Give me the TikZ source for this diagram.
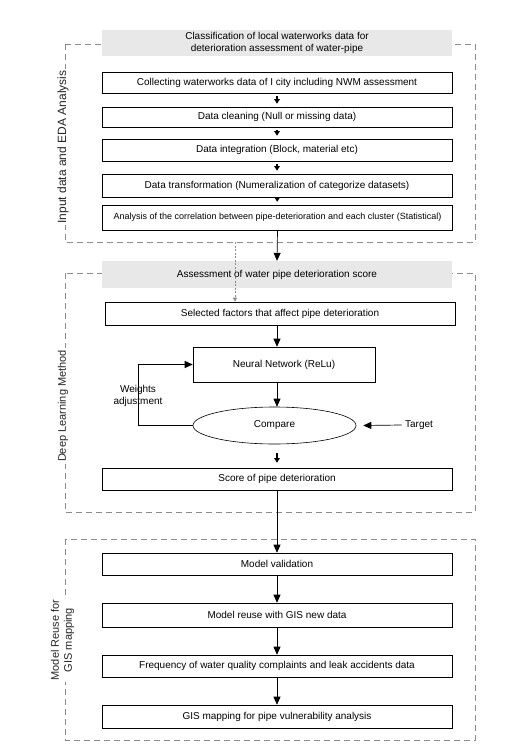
\documentclass[tikz,border=0pt]{standalone}
\usepackage{fontspec}
\setmainfont{Liberation Sans}
\usepackage{tikz}
\usetikzlibrary{shapes.geometric, arrows.meta, positioning}
\tikzstyle{process} = [rectangle, minimum width=350pt, text centered, draw=black, line width=0.6pt, font=\fontsize{10}{12}\selectfont, inner sep=1pt]
\tikzstyle{band} = [rectangle, minimum width=350pt, fill=black!9, text centered, align=center, font=\fontsize{10}{12}\selectfont, inner sep=1pt]
\tikzstyle{frame} = [draw=black!45, line width=0.8pt, dash pattern=on 6pt off 4pt]
\tikzstyle{sidelabel} = [rotate=90, fill=white, align=center, inner sep=2pt, font=\fontsize{11}{13}\selectfont, text=black!85]
\tikzstyle{arrow} = [line width=0.7pt, -{Triangle[width=7pt, length=8pt]}]
\tikzstyle{step arrow} = [line width=1.8pt, -{Triangle[width=5.5pt, length=4.5pt]}, shorten <=3pt, shorten >=3pt]

\begin{document}
\begin{tikzpicture}[x=1pt, y=-1pt]
\useasboundingbox (0,0) rectangle (516,746);

% Frames
\draw [frame] (65,44) rectangle (475,242);
\draw [frame] (65,273) rectangle (475,512);
\draw [frame] (65,539) rectangle (475,740);

% Input data and EDA analysis
\node (title1) [band, minimum height=26pt] at (277,43) {Classification of local waterworks data for\\deterioration assessment of water-pipe};
\node (collect) [process, minimum height=21pt] at (277,82.5) {Collecting waterworks data of I city including NWM assessment};
\node (clean) [process, minimum height=20pt] at (277,117) {Data cleaning (Null or missing data)};
\node (integ) [process, minimum height=22pt] at (277,150) {Data integration (Block, material etc)};
\node (transf) [process, minimum height=23pt] at (277,185.5) {Data transformation (Numeralization of categorize datasets)};
\node (corr) [process, minimum height=25pt, font=\fontsize{9}{11}\selectfont] at (277.5,217.5) {Analysis of the correlation between pipe-deterioration and each cluster (Statistical)};
\coordinate (tap) at (235,242);

% Deep learning method
\node (title2) [band, minimum height=27pt] at (277,274.5) {Assessment of water pipe deterioration score};
\node (select) [process, minimum height=23pt] at (280,313.5) {Selected factors that affect pipe deterioration};
\node (nn) [process, minimum width=182pt, minimum height=35pt] at (284,364.5) {Neural Network (ReLu)};
\node (compare) [ellipse, draw=black, line width=0.6pt, minimum width=163pt, minimum height=37pt, font=\fontsize{10}{12}\selectfont] at (274.5,425.5) {Compare};
\node (weights) [align=center, font=\fontsize{10}{12}\selectfont] at (138,396) {Weights\\adjustment};
\node (target) [font=\fontsize{10}{12}\selectfont] at (419,425) {Target};
\node (score) [process, minimum height=22pt] at (277,479) {Score of pipe deterioration};

% Model reuse for GIS mapping
\node (valid) [process, minimum height=22pt] at (277,564) {Model validation};
\node (reuse) [process, minimum height=24pt] at (277,615) {Model reuse with GIS new data};
\node (freq) [process, minimum height=22pt] at (277,666) {Frequency of water quality complaints and leak accidents data};
\node (gis) [process, minimum height=23pt] at (277,716.5) {GIS mapping for pipe vulnerability analysis};

% Side labels
\node (lab1) [sidelabel, font=\fontsize{12}{14}\selectfont] at (63,147) {Input data and EDA Analysis};
\node (lab2) [sidelabel] at (63,406) {Deep Learning Method};
\node (lab3) [sidelabel] at (62.5,640) {Model Reuse for\\GIS mapping};

% Arrows
\draw [step arrow] (collect) -- (clean);
\draw [step arrow] (clean) -- (integ);
\draw [step arrow] (integ) -- (transf);
\draw [step arrow] (transf) -- (corr);
\draw [arrow] (corr.south) -- (title2.north);
\draw [draw=black!45, line width=0.6pt, dash pattern=on 2pt off 1.5pt, -{Triangle[width=4pt, length=4pt]}] (tap) -- (tap |- select.north);
\draw [arrow] (select.south -| score) -- (nn.north -| score);
\draw [arrow] (nn.south -| score) -- (compare.north -| score);
\draw [arrow] (compare.west) -- ++(-54,0) |- (nn.west);
\draw [arrow] (target.west) -- ([xshift=7pt]compare.east);
\draw [step arrow, shorten <=9pt, shorten >=5pt] (compare.south -| score) -- (score.north);
\draw [arrow] (score.south) -- (valid.north);
\draw [arrow] (valid) -- (reuse);
\draw [arrow] (reuse) -- (freq);
\draw [arrow] (freq) -- (gis);

\end{tikzpicture}
\end{document}
